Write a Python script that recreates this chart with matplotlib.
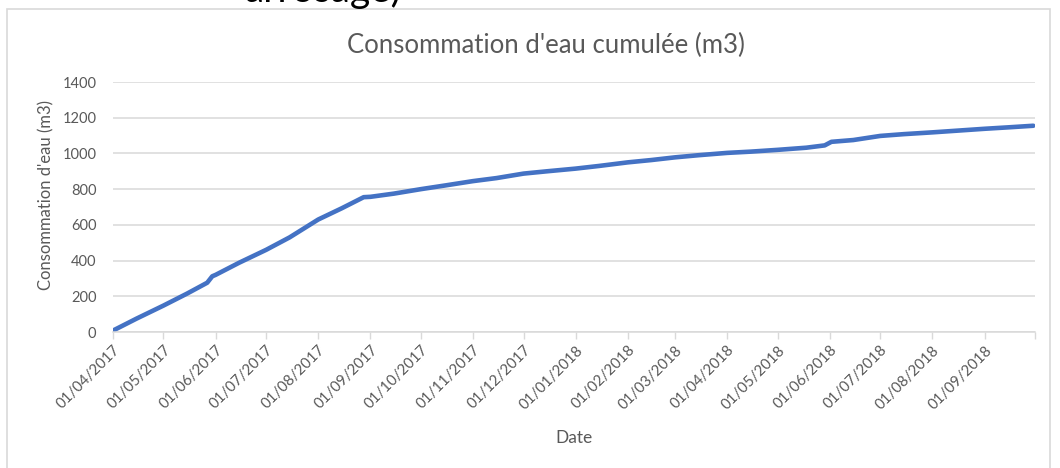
import matplotlib
matplotlib.use("Agg")
import matplotlib.pyplot as plt
from matplotlib.patches import Rectangle
import pandas as pd

# ---- data ----
dates = ["2017-04-01", "2017-04-15", "2017-05-01", "2017-05-15", "2017-05-27",
         "2017-05-30", "2017-06-01", "2017-06-15", "2017-07-01", "2017-07-15",
         "2017-08-01", "2017-08-15", "2017-08-28", "2017-09-01", "2017-09-15",
         "2017-10-01", "2017-10-15", "2017-11-01", "2017-11-15", "2017-12-01",
         "2017-12-15", "2018-01-01", "2018-01-15", "2018-02-01", "2018-02-15",
         "2018-03-01", "2018-03-15", "2018-04-01", "2018-04-15", "2018-05-01",
         "2018-05-18", "2018-05-29", "2018-06-02", "2018-06-15", "2018-07-01",
         "2018-07-15", "2018-08-01", "2018-08-15", "2018-09-01", "2018-09-15",
         "2018-09-30"]
conso = [8, 75, 148, 215, 276,
         312, 320, 388, 460, 530,
         630, 693, 755, 757, 775,
         800, 820, 845, 862, 887,
         900, 915, 930, 950, 963,
         978, 990, 1003, 1010, 1020,
         1032, 1045, 1065, 1075, 1098,
         1108, 1118, 1127, 1138, 1146,
         1155]
tick_dates = pd.date_range("2017-04-01", "2018-10-01", freq="MS")
tick_labels = [d.strftime("%d/%m/%Y") for d in tick_dates[:-1]] + [""]
y_ticks = [0, 200, 400, 600, 800, 1000, 1200, 1400]

title = "Consommation d'eau cumulée (m3)"
ylabel = "Consommation d'eau (m3)"
xlabel = "Date"

# ---- figure ----
W, H = 1060, 468
fig = plt.figure(figsize=(W / 100, H / 100), dpi=100)
fam = ["Lato", "DejaVu Sans"]
gray = "#595959"
gridc = "#D9D9D9"

# outer chart border
fig.patches.append(Rectangle((7 / W, -0.02), (1050 - 7) / W, 1 - 9 / H + 0.02,
                             transform=fig.transFigure, fill=False,
                             edgecolor=gridc, linewidth=1.2))

ax = fig.add_axes([113 / W, 1 - 332 / H, (1035 - 113) / W, (332 - 82) / H])
x = pd.to_datetime(dates)
ax.plot(x, conso, color="#4472C4", linewidth=3.3, solid_capstyle="round",
        solid_joinstyle="round")

ax.set_xlim(tick_dates[0], tick_dates[-1])
ax.set_ylim(0, 1400)
ax.set_yticks(y_ticks)
ax.set_yticklabels([str(v) for v in y_ticks], family=fam, fontsize=10.5, color=gray)
ax.set_xticks(tick_dates)
ax.set_xticklabels(tick_labels, rotation=45, ha="right", rotation_mode="anchor",
                   family=fam, fontsize=10.8, color=gray)
ax.tick_params(axis="y", length=0, pad=12)
ax.tick_params(axis="x", length=5, width=1, color=gridc, pad=3)
ax.grid(axis="y", color=gridc, linewidth=1.1)
ax.set_axisbelow(True)
for s in ["left", "right", "top"]:
    ax.spines[s].set_visible(False)
ax.spines["bottom"].set_color(gridc)
ax.spines["bottom"].set_linewidth(1.1)

fig.text(46 / W, 1 - 195 / H, ylabel, rotation=90, ha="center", va="center",
         family=fam, fontsize=12, color=gray)
fig.text(574 / W, 1 - 438 / H, xlabel, ha="center", va="center",
         family=fam, fontsize=12.5, color=gray)
fig.text(546 / W, 1 - 45 / H, title, ha="center", va="center",
         family=fam, fontsize=18.5, color=gray)
fig.text(323 / W, 1 - 2 / H, "arrosage)", ha="center", va="baseline",
         family=fam, fontsize=28, color="black")

fig.savefig("out.png", dpi=100, facecolor="white")
